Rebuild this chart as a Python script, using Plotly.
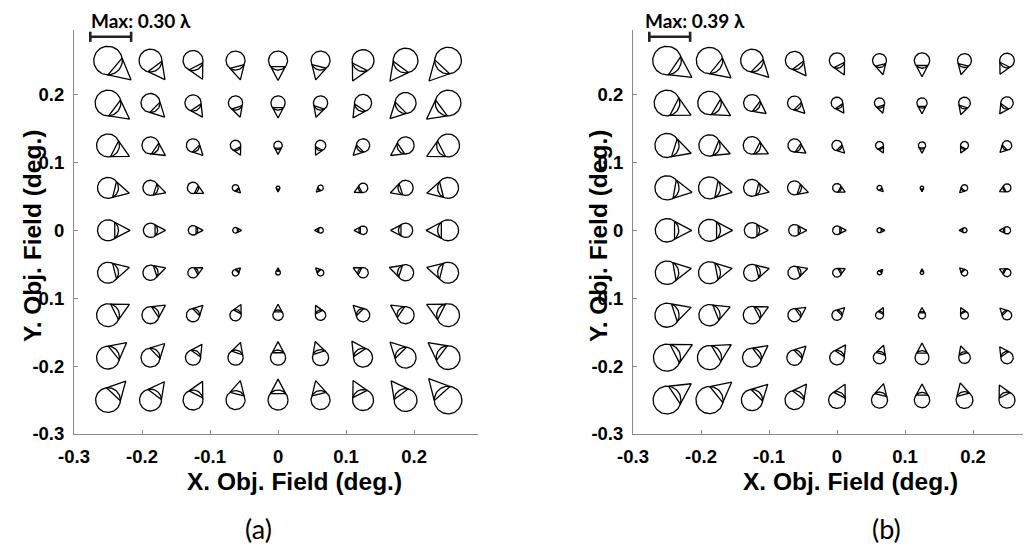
import numpy as np
import plotly.graph_objects as go

# ---------------- data ----------------
field_x = [-0.25, -0.1875, -0.125, -0.0625, 0.0, 0.0625, 0.125, 0.1875, 0.25]
field_y = [0.25, 0.1875, 0.125, 0.0625, 0.0, -0.0625, -0.125, -0.1875, -0.25]  # rows, top to bottom

x_tick_vals = [-0.3, -0.2, -0.1, 0.0, 0.1, 0.2]
x_tick_text = ["-0.3", "-0.2", "-0.1", "0", "0.1", "0.2"]
y_tick_vals = [-0.3, -0.2, -0.1, 0.0, 0.1, 0.2]
y_tick_text = ["-0.3", "-0.2", "-0.1", "0", "0.1", "0.2"]

# panel (a): coma magnitude (waves) and orientation of the tail (deg)
coma_mag_a = [
    [0.30, 0.24, 0.21, 0.20, 0.20, 0.20, 0.23, 0.26, 0.28],
    [0.27, 0.20, 0.17, 0.15, 0.15, 0.15, 0.18, 0.22, 0.27],
    [0.24, 0.18, 0.14, 0.11, 0.09, 0.11, 0.14, 0.18, 0.24],
    [0.22, 0.16, 0.12, 0.07, 0.04, 0.06, 0.10, 0.16, 0.22],
    [0.22, 0.15, 0.10, 0.06, 0.00, 0.06, 0.09, 0.15, 0.22],
    [0.22, 0.16, 0.11, 0.07, 0.05, 0.07, 0.11, 0.17, 0.22],
    [0.24, 0.18, 0.14, 0.12, 0.11, 0.11, 0.14, 0.18, 0.24],
    [0.24, 0.20, 0.16, 0.16, 0.16, 0.17, 0.20, 0.22, 0.25],
    [0.26, 0.23, 0.21, 0.20, 0.21, 0.20, 0.22, 0.24, 0.29],
]
coma_ang_a = [
    [-40, -53, -63, -76, -90, -104, -117, -127, -133],
    [-37, -45, -56, -72, -90, -108, -124, -135, -143],
    [-27, -34, -45, -63, -90, -117, -135, -146, -153],
    [-14, -18, -27, -45, -90, -135, -153, -162, -166],
    [0, 0, 0, 0, 0, 180, 180, 180, 180],
    [14, 18, 27, 45, 90, 135, 153, 162, 166],
    [27, 34, 45, 63, 90, 117, 135, 146, 153],
    [39, 45, 56, 72, 90, 108, 124, 135, 143],
    [47, 53, 63, 76, 90, 104, 117, 127, 132],
]
max_a = 0.30

# panel (b)
coma_mag_b = [
    [0.39, 0.36, 0.31, 0.25, 0.21, 0.19, 0.21, 0.19, 0.20],
    [0.35, 0.32, 0.23, 0.19, 0.16, 0.14, 0.14, 0.16, 0.17],
    [0.33, 0.29, 0.24, 0.18, 0.14, 0.11, 0.10, 0.11, 0.13],
    [0.33, 0.30, 0.23, 0.19, 0.12, 0.07, 0.05, 0.09, 0.11],
    [0.32, 0.30, 0.21, 0.16, 0.12, 0.07, 0.00, 0.07, 0.10],
    [0.32, 0.30, 0.23, 0.18, 0.12, 0.06, 0.05, 0.09, 0.11],
    [0.33, 0.29, 0.24, 0.18, 0.14, 0.11, 0.10, 0.11, 0.13],
    [0.37, 0.33, 0.26, 0.21, 0.20, 0.17, 0.19, 0.16, 0.17],
    [0.38, 0.37, 0.29, 0.26, 0.23, 0.22, 0.21, 0.23, 0.22],
]
coma_ang_b = [
    [-34, -39, -45, -53, -63, -76, -90, -104, -117],
    [-27, -31, -37, -45, -56, -72, -90, -108, -124],
    [-18, -22, -27, -34, -45, -63, -90, -117, -135],
    [-10, -11, -14, -18, -27, -45, -90, -135, -153],
    [0, 0, 0, 0, 0, 0, 0, 180, 180],
    [10, 11, 14, 18, 27, 45, 90, 135, 153],
    [18, 22, 27, 34, 45, 63, 90, 117, 135],
    [27, 31, 37, 45, 56, 72, 90, 108, 124],
    [34, 39, 45, 53, 63, 76, 90, 104, 117],
]
max_b = 0.39

max_labels = ["Max: 0.30 λ", "Max: 0.39 λ"]
panel_labels = ["(a)", "(b)"]
x_title = "X. Obj. Field (deg.)"
y_title = "Y. Obj. Field (deg.)"

# ---------------- styling constants ----------------
R_MAX = 0.021         # glyph circle radius (deg) for the max value
APEX = 2.1            # apex distance / radius
BASE_ANG = 50         # base corners of the tail on the circle (deg from tail axis)
BAR_X0, BAR_LEN, BAR_Y, CAP = -0.276, 0.06, 0.285, 0.0075

OFF = 8                      # page body margin in the browser
FW, FH = 1031 - 2 * OFF, 556 - 2 * OFF


def px(x):   # screen px -> paper x
    return (x - OFF) / FW


def py(y):   # screen px -> paper y
    return 1 - (y - OFF) / FH


def glyph_paths(mag, ang, mx):
    xs, ys = [], []
    t = np.linspace(0, 2 * np.pi, 73)
    for i, yc in enumerate(field_y):
        for j, xc in enumerate(field_x):
            m = mag[i][j]
            if m <= 0:
                continue
            r = m / mx * R_MAX
            xs += list(xc + r * np.cos(t)) + [None]
            ys += list(yc + r * np.sin(t)) + [None]
            th = np.radians(ang[i][j])
            ax_, ay_ = xc + APEX * r * np.cos(th), yc + APEX * r * np.sin(th)
            b1 = np.radians(ang[i][j] + BASE_ANG)
            b2 = np.radians(ang[i][j] - BASE_ANG)
            p1 = (xc + r * np.cos(b1), yc + r * np.sin(b1))
            p2 = (xc + r * np.cos(b2), yc + r * np.sin(b2))
            xs += [p1[0], ax_, p2[0], p1[0], None]
            ys += [p1[1], ay_, p2[1], p1[1], None]
    return xs, ys


fig = go.Figure()
panels = [(coma_mag_a, coma_ang_a, max_a, "x", "y"),
          (coma_mag_b, coma_ang_b, max_b, "x2", "y2")]
for mag, ang, mx, xa, ya in panels:
    gx, gy = glyph_paths(mag, ang, mx)
    fig.add_trace(go.Scatter(x=gx, y=gy, mode="lines",
                             line=dict(color="black", width=1.3),
                             xaxis=xa, yaxis=ya, hoverinfo="skip", showlegend=False))
    bx = [BAR_X0, BAR_X0 + BAR_LEN, None, BAR_X0, BAR_X0, None, BAR_X0 + BAR_LEN, BAR_X0 + BAR_LEN]
    by = [BAR_Y, BAR_Y, None, BAR_Y - CAP, BAR_Y + CAP, None, BAR_Y - CAP, BAR_Y + CAP]
    fig.add_trace(go.Scatter(x=bx, y=by, mode="lines",
                             line=dict(color="#222", width=2.6),
                             xaxis=xa, yaxis=ya, hoverinfo="skip", showlegend=False))

tick_font = dict(family="Liberation Sans, Arial", size=18.5, color="black", weight="bold")
axis_common = dict(showgrid=False, zeroline=False, showline=True, linecolor="#8a8a8a",
                   linewidth=1, ticks="inside", ticklen=4, tickcolor="#8a8a8a",
                   tickfont=tick_font, fixedrange=True, automargin=False)
ydom = [py(434), py(30)]
fig.update_layout(
    width=FW, height=FH, margin=dict(l=0, r=0, t=0, b=0, autoexpand=False),
    paper_bgcolor="white", plot_bgcolor="white",
    xaxis=dict(domain=[px(74), px(478)], range=[-0.3, 0.294], anchor="y",
               tickvals=x_tick_vals, ticktext=x_tick_text, ticklabelstandoff=6, **axis_common),
    yaxis=dict(domain=ydom, range=[-0.3, 0.295], anchor="x",
               tickvals=y_tick_vals, ticktext=y_tick_text, ticklabelstandoff=5, **axis_common),
    xaxis2=dict(domain=[px(633), 1.0], range=[-0.3, -0.3 + (FW + OFF - 633) / 680.0], anchor="y2",
                tickvals=x_tick_vals, ticktext=x_tick_text, ticklabelstandoff=6, **axis_common),
    yaxis2=dict(domain=ydom, range=[-0.3, 0.295], anchor="x2",
                tickvals=y_tick_vals, ticktext=y_tick_text, ticklabelstandoff=5, **axis_common),
)

ann = []
title_font = dict(family="Liberation Sans, Arial", size=24.5, color="black", weight="bold")
for k, (mx_x, xt_x, yt_x, pl_x) in enumerate([(90, 294, 32, 258), (644, 850, 598, 886)]):
    ann.append(dict(text="<b>%s</b>" % max_labels[k], x=px(mx_x), y=1.0, xref="paper", yref="paper",
                    xanchor="left", yanchor="top", showarrow=False, borderpad=0,
                    font=dict(family="Lato", size=19, color="black")))
    ann.append(dict(text=x_title, x=px(xt_x), y=py(481), xref="paper", yref="paper",
                    xanchor="center", yanchor="middle", showarrow=False, font=title_font))
    ann.append(dict(text=y_title, x=px(yt_x), y=py(236), xref="paper", yref="paper",
                    xanchor="center", yanchor="middle", showarrow=False, textangle=-90, font=title_font))
    ann.append(dict(text=panel_labels[k], x=px(pl_x), y=py(528), xref="paper", yref="paper",
                    xanchor="center", yanchor="middle", showarrow=False,
                    font=dict(family="Lato", size=27, color="black")))
fig.update_layout(annotations=ann)

fig.write_html("out.html")
